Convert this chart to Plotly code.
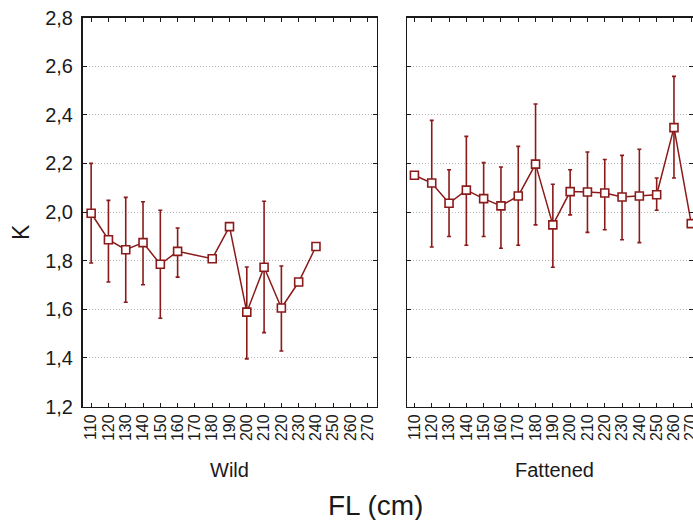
import plotly.graph_objects as go

# ---- data ----
fl_ticks = [110, 120, 130, 140, 150, 160, 170, 180, 190, 200, 210, 220, 230, 240, 250, 260, 270]

wild_fl = [110, 120, 130, 140, 150, 160, 180, 190, 200, 210, 220, 230, 240]
wild_k = [1.995, 1.886, 1.845, 1.874, 1.785, 1.838, 1.808, 1.940, 1.588, 1.773, 1.605, 1.712, 1.858]
wild_hi = [2.200, 2.048, 2.060, 2.042, 2.007, 1.934, None, None, 1.774, 2.044, 1.778, None, None]
wild_lo = [1.790, 1.712, 1.629, 1.701, 1.563, 1.732, None, None, 1.396, 1.504, 1.428, None, None]

fat_fl = [110, 120, 130, 140, 150, 160, 170, 180, 190, 200, 210, 220, 230, 240, 250, 260, 270]
fat_k = [2.151, 2.119, 2.036, 2.090, 2.055, 2.025, 2.066, 2.197, 1.947, 2.084, 2.082, 2.078, 2.062, 2.066, 2.071, 2.347, 1.952]
fat_hi = [None, 2.377, 2.174, 2.311, 2.203, 2.185, 2.270, 2.444, 2.114, 2.174, 2.247, 2.216, 2.233, 2.258, 2.140, 2.558, None]
fat_lo = [None, 1.856, 1.899, 1.863, 1.899, 1.851, 1.863, 1.947, 1.773, 1.988, 1.916, 1.927, 1.886, 1.874, 2.007, 2.140, None]

y_ticks = [1.2, 1.4, 1.6, 1.8, 2.0, 2.2, 2.4, 2.6, 2.8]
panel_labels = ["Wild", "Fattened"]

RED = "#8b1a1a"
INK = "#1a1a1a"
FONT = "Liberation Sans, Arial, sans-serif"
W, H = 693, 520


def err(vals, bound, sign):
    return [None if b is None else sign * (b - v) for v, b in zip(vals, bound)]


def trace(x, y, hi, lo, xa, ya):
    return go.Scatter(
        x=x, y=y, xaxis=xa, yaxis=ya, mode="lines+markers",
        line=dict(color=RED, width=1.5),
        marker=dict(symbol="square", size=8, color="white",
                    line=dict(color=RED, width=1.6)),
        error_y=dict(type="data", symmetric=False,
                     array=err(y, hi, 1), arrayminus=err(y, lo, -1),
                     color=RED, thickness=1.6, width=2),
        showlegend=False, hoverinfo="skip",
    )


fig = go.Figure()
fig.add_trace(trace(wild_fl, wild_k, wild_hi, wild_lo, "x", "y"))
fig.add_trace(trace(fat_fl, fat_k, fat_hi, fat_lo, "x2", "y2"))

px = lambda v: v / W
py = lambda v: 1 - v / H

left_dom = [px(82.5), px(376.5)]
right_dom = [px(407), 1.0]
y_dom = [py(406.5), py(17.5)]

xcommon = dict(
    tickmode="array", tickvals=fl_ticks, ticktext=[str(t) for t in fl_ticks],
    tickangle=-90, tickfont=dict(family=FONT, size=16, color=INK),
    ticks="inside", ticklen=4, tickcolor=INK, showgrid=False,
    showline=True, linecolor=INK, linewidth=1.5, zeroline=False,
    automargin=False, mirror="ticks", ticklabeloverflow="allow",
)
ycommon = dict(
    range=[1.2, 2.8], tickvals=y_ticks, ticks="inside", ticklen=4, tickcolor=INK,
    showgrid=True, gridcolor="#b8b8b8", griddash="1px,2px", gridwidth=1,
    showline=True, linecolor=INK, linewidth=1.5, mirror="ticks",
    zeroline=False, automargin=False, domain=y_dom, ticklabeloverflow="allow",
)
fig.update_layout(
    xaxis=dict(domain=left_dom, range=[105, 275], anchor="y", **xcommon),
    xaxis2=dict(domain=right_dom, range=[105.7, 271.0], anchor="y2", **xcommon),
    yaxis=dict(anchor="x", tickformat=".1f",
               tickfont=dict(family=FONT, size=20, color=INK),
               ticklabelstandoff=4, **ycommon),
    yaxis2=dict(anchor="x2", showticklabels=False, **ycommon),
    separators=",.",
    width=W, height=H,
    margin=dict(l=0, r=0, t=0, b=0, autoexpand=False),
    paper_bgcolor="white", plot_bgcolor="white",
    font=dict(family=FONT, color=INK),
    hovermode=False,
)

ann = dict(xref="paper", yref="paper", showarrow=False, xanchor="center", yanchor="middle")
fig.add_annotation(x=px(229.5), y=py(470), text=panel_labels[0],
                   font=dict(family=FONT, size=20, color=INK), **ann)
fig.add_annotation(x=px(554), y=py(470), text=panel_labels[1],
                   font=dict(family=FONT, size=20, color=INK), **ann)
fig.add_annotation(x=px(375), y=py(505), text="FL (cm)",
                   font=dict(family=FONT, size=28, color=INK), **ann)
fig.add_annotation(x=px(21), y=py(232), text="K", textangle=-90,
                   font=dict(family=FONT, size=23, color=INK), **ann)

fig.write_html(
    "out.html",
    config={"displayModeBar": False, "staticPlot": True},
    post_script="document.body.style.margin='0';document.body.style.overflow='hidden';",
)
